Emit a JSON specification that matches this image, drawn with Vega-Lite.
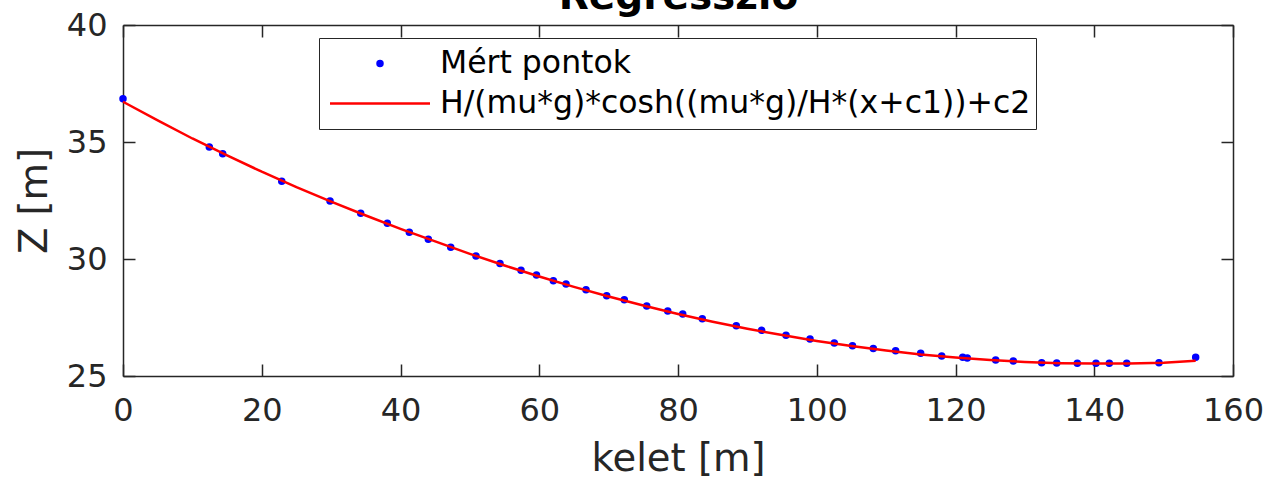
{
  "$schema": "https://vega.github.io/schema/vega-lite/v6.json",
  "autosize": {"type": "none"},
  "padding": {"left": 123, "top": 25, "right": 33, "bottom": 102},
  "width": 1110,
  "height": 351,
  "background": "white",
  "datasets": {
    "points": [
      {"x": 0.0, "z": 36.85, "series": "Mért pontok"},
      {"x": 12.44, "z": 34.79, "series": "Mért pontok"},
      {"x": 14.37, "z": 34.5, "series": "Mért pontok"},
      {"x": 22.88, "z": 33.32, "series": "Mért pontok"},
      {"x": 29.84, "z": 32.48, "series": "Mért pontok"},
      {"x": 34.26, "z": 31.95, "series": "Mért pontok"},
      {"x": 38.1, "z": 31.53, "series": "Mért pontok"},
      {"x": 41.27, "z": 31.14, "series": "Mért pontok"},
      {"x": 44.01, "z": 30.84, "series": "Mért pontok"},
      {"x": 47.24, "z": 30.5, "series": "Mért pontok"},
      {"x": 50.88, "z": 30.13, "series": "Mért pontok"},
      {"x": 54.34, "z": 29.81, "series": "Mért pontok"},
      {"x": 57.37, "z": 29.52, "series": "Mért pontok"},
      {"x": 59.6, "z": 29.32, "series": "Mért pontok"},
      {"x": 62.03, "z": 29.07, "series": "Mért pontok"},
      {"x": 63.86, "z": 28.93, "series": "Mért pontok"},
      {"x": 66.74, "z": 28.69, "series": "Mért pontok"},
      {"x": 69.72, "z": 28.43, "series": "Mért pontok"},
      {"x": 72.26, "z": 28.26, "series": "Mért pontok"},
      {"x": 75.49, "z": 27.99, "series": "Mért pontok"},
      {"x": 78.52, "z": 27.78, "series": "Mért pontok"},
      {"x": 80.68, "z": 27.65, "series": "Mért pontok"},
      {"x": 83.5, "z": 27.45, "series": "Mért pontok"},
      {"x": 88.4, "z": 27.15, "series": "Mért pontok"},
      {"x": 92.06, "z": 26.95, "series": "Mért pontok"},
      {"x": 95.57, "z": 26.74, "series": "Mért pontok"},
      {"x": 99.03, "z": 26.58, "series": "Mért pontok"},
      {"x": 102.53, "z": 26.41, "series": "Mért pontok"},
      {"x": 105.15, "z": 26.29, "series": "Mért pontok"},
      {"x": 108.15, "z": 26.18, "series": "Mért pontok"},
      {"x": 111.37, "z": 26.08, "series": "Mért pontok"},
      {"x": 114.98, "z": 25.97, "series": "Mért pontok"},
      {"x": 118.01, "z": 25.85, "series": "Mért pontok"},
      {"x": 121.04, "z": 25.8, "series": "Mért pontok"},
      {"x": 121.7, "z": 25.77, "series": "Mért pontok"},
      {"x": 125.79, "z": 25.68, "series": "Mért pontok"},
      {"x": 128.33, "z": 25.64, "series": "Mért pontok"},
      {"x": 132.42, "z": 25.57, "series": "Mért pontok"},
      {"x": 134.59, "z": 25.56, "series": "Mért pontok"},
      {"x": 137.56, "z": 25.54, "series": "Mért pontok"},
      {"x": 140.25, "z": 25.54, "series": "Mért pontok"},
      {"x": 142.17, "z": 25.54, "series": "Mért pontok"},
      {"x": 144.68, "z": 25.54, "series": "Mért pontok"},
      {"x": 149.33, "z": 25.57, "series": "Mért pontok"},
      {"x": 154.62, "z": 25.8, "series": "Mért pontok"}
    ],
    "fit": [
      {"x": 0, "z": 36.72, "series": "H/(mu*g)*cosh((mu*g)/H*(x+c1))+c2"},
      {"x": 5, "z": 35.92, "series": "H/(mu*g)*cosh((mu*g)/H*(x+c1))+c2"},
      {"x": 10, "z": 35.15, "series": "H/(mu*g)*cosh((mu*g)/H*(x+c1))+c2"},
      {"x": 15, "z": 34.43, "series": "H/(mu*g)*cosh((mu*g)/H*(x+c1))+c2"},
      {"x": 20, "z": 33.73, "series": "H/(mu*g)*cosh((mu*g)/H*(x+c1))+c2"},
      {"x": 25, "z": 33.07, "series": "H/(mu*g)*cosh((mu*g)/H*(x+c1))+c2"},
      {"x": 30, "z": 32.45, "series": "H/(mu*g)*cosh((mu*g)/H*(x+c1))+c2"},
      {"x": 35, "z": 31.86, "series": "H/(mu*g)*cosh((mu*g)/H*(x+c1))+c2"},
      {"x": 40, "z": 31.29, "series": "H/(mu*g)*cosh((mu*g)/H*(x+c1))+c2"},
      {"x": 45, "z": 30.75, "series": "H/(mu*g)*cosh((mu*g)/H*(x+c1))+c2"},
      {"x": 50, "z": 30.22, "series": "H/(mu*g)*cosh((mu*g)/H*(x+c1))+c2"},
      {"x": 55, "z": 29.72, "series": "H/(mu*g)*cosh((mu*g)/H*(x+c1))+c2"},
      {"x": 60, "z": 29.25, "series": "H/(mu*g)*cosh((mu*g)/H*(x+c1))+c2"},
      {"x": 65, "z": 28.81, "series": "H/(mu*g)*cosh((mu*g)/H*(x+c1))+c2"},
      {"x": 70, "z": 28.4, "series": "H/(mu*g)*cosh((mu*g)/H*(x+c1))+c2"},
      {"x": 75, "z": 28.01, "series": "H/(mu*g)*cosh((mu*g)/H*(x+c1))+c2"},
      {"x": 80, "z": 27.65, "series": "H/(mu*g)*cosh((mu*g)/H*(x+c1))+c2"},
      {"x": 85, "z": 27.32, "series": "H/(mu*g)*cosh((mu*g)/H*(x+c1))+c2"},
      {"x": 90, "z": 27.02, "series": "H/(mu*g)*cosh((mu*g)/H*(x+c1))+c2"},
      {"x": 95, "z": 26.75, "series": "H/(mu*g)*cosh((mu*g)/H*(x+c1))+c2"},
      {"x": 100, "z": 26.5, "series": "H/(mu*g)*cosh((mu*g)/H*(x+c1))+c2"},
      {"x": 105, "z": 26.28, "series": "H/(mu*g)*cosh((mu*g)/H*(x+c1))+c2"},
      {"x": 110, "z": 26.09, "series": "H/(mu*g)*cosh((mu*g)/H*(x+c1))+c2"},
      {"x": 115, "z": 25.92, "series": "H/(mu*g)*cosh((mu*g)/H*(x+c1))+c2"},
      {"x": 120, "z": 25.79, "series": "H/(mu*g)*cosh((mu*g)/H*(x+c1))+c2"},
      {"x": 125, "z": 25.68, "series": "H/(mu*g)*cosh((mu*g)/H*(x+c1))+c2"},
      {"x": 130, "z": 25.6, "series": "H/(mu*g)*cosh((mu*g)/H*(x+c1))+c2"},
      {"x": 135, "z": 25.55, "series": "H/(mu*g)*cosh((mu*g)/H*(x+c1))+c2"},
      {"x": 140, "z": 25.53, "series": "H/(mu*g)*cosh((mu*g)/H*(x+c1))+c2"},
      {"x": 145, "z": 25.53, "series": "H/(mu*g)*cosh((mu*g)/H*(x+c1))+c2"},
      {"x": 150, "z": 25.57, "series": "H/(mu*g)*cosh((mu*g)/H*(x+c1))+c2"},
      {"x": 154.62, "z": 25.65, "series": "H/(mu*g)*cosh((mu*g)/H*(x+c1))+c2"}
    ]
  },
  "layer": [
    {
      "data": {"name": "points"},
      "mark": {"type": "point", "filled": true, "size": 10000, "stroke": "#0000ff", "strokeWidth": 2.5, "opacity": 1, "clip": false},
      "encoding": {
        "x": {
          "field": "x",
          "type": "quantitative",
          "scale": {"domain": [0, 160], "nice": false, "zero": false},
          "axis": {
            "orient": "bottom",
            "title": "kelet [m]",
            "values": [0, 20, 40, 60, 80, 100, 120, 140, 160],
            "tickSize": -12,
            "labelPadding": 31,
            "titlePadding": 44,
            "titleBaseline": "alphabetic"
          }
        },
        "y": {
          "field": "z",
          "type": "quantitative",
          "scale": {"domain": [25, 40], "nice": false, "zero": false},
          "axis": {
            "orient": "left",
            "title": "Z [m]",
            "values": [25, 30, 35, 40],
            "tickSize": -12,
            "labelPadding": 28,
            "titlePadding": 20,
            "titleBaseline": "alphabetic"
          }
        },
        "shape": {
          "field": "series",
          "type": "nominal",
          "sort": null,
          "scale": {
            "domain": ["Mért pontok", "H/(mu*g)*cosh((mu*g)/H*(x+c1))+c2"],
            "range": ["M-0.05,0A0.05,0.05,0,1,0,0.05,0A0.05,0.05,0,1,0,-0.05,0Z", "stroke"]
          },
          "legend": {
            "orient": "none",
            "legendX": 196,
            "legendY": 13,
            "title": null
          }
        },
        "color": {
          "field": "series",
          "type": "nominal",
          "sort": null,
          "scale": {
            "domain": ["Mért pontok", "H/(mu*g)*cosh((mu*g)/H*(x+c1))+c2"],
            "range": ["#0000ff", "#ff0000"]
          },
          "legend": {
            "orient": "none",
            "legendX": 196,
            "legendY": 13,
            "title": null
          }
        }
      }
    },
    {
      "data": {"name": "fit"},
      "mark": {"type": "line", "strokeWidth": 2.5, "clip": false},
      "encoding": {
        "x": {
          "field": "x",
          "type": "quantitative",
          "axis": {
            "orient": "top",
            "title": "Regresszió",
            "titleFontWeight": "bold",
            "titleFontSize": 39,
            "titleColor": "black",
            "titleBaseline": "alphabetic",
            "titleAlign": "center",
            "titleX": 555,
            "titleY": -17,
            "labels": false,
            "values": [0, 20, 40, 60, 80, 100, 120, 140, 160],
            "tickSize": -12
          }
        },
        "y": {
          "field": "z",
          "type": "quantitative",
          "axis": {
            "orient": "right",
            "title": null,
            "labels": false,
            "values": [25, 30, 35, 40],
            "tickSize": -12
          }
        },
        "color": {"field": "series", "type": "nominal", "sort": null}
      }
    }
  ],
  "resolve": {"axis": {"x": "independent", "y": "independent"}},
  "config": {
    "view": {"stroke": null},
    "legend": {
      "padding": 5.5,
      "fillColor": "white",
      "strokeColor": "#262626",
      "labelFont": "DejaVu Sans",
      "labelFontSize": 31.5,
      "labelColor": "black",
      "labelLimit": 0,
      "labelOffset": 8.5,
      "symbolOffset": 4,
      "symbolSize": 10000,
      "symbolStrokeWidth": 2.5,
      "symbolOpacity": 1,
      "clipHeight": 40,
      "rowPadding": 0
    },
    "axis": {
      "grid": false,
      "domainColor": "#262626",
      "domainWidth": 1.5,
      "tickColor": "#262626",
      "tickWidth": 1.5,
      "labelFont": "DejaVu Sans",
      "labelFontSize": 32,
      "labelColor": "#262626",
      "titleFont": "DejaVu Sans",
      "titleFontSize": 38.5,
      "titleFontWeight": "normal",
      "titleColor": "#262626",
      "labelFlush": false,
      "labelOverlap": false
    }
  }
}
